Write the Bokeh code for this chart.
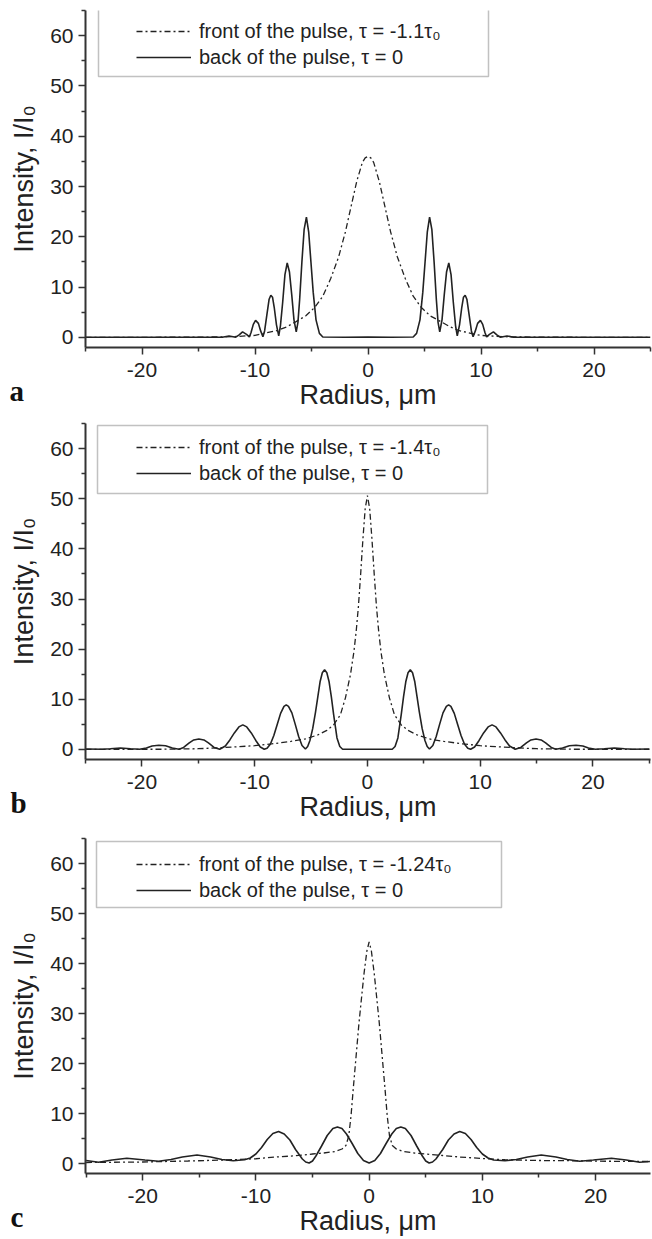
from bokeh.plotting import figure
from bokeh.layouts import column
from bokeh.models import Range1d, Legend, LegendItem, BoxAnnotation, Title, FixedTicker
from bokeh.embed import file_html
from bokeh.resources import INLINE

# ---------------- data ----------------
x_ticks = [-20, -10, 0, 10, 20]
x_tick_text = ["-20", "-10", "0", "10", "20"]
x_minor = [-25, -15, -5, 5, 15, 25]
y_ticks = [0, 10, 20, 30, 40, 50, 60]
y_minor = [5, 15, 25, 35, 45, 55, 65]

panel_letters = ["a", "b", "c"]
front_labels = ["front of the pulse, \u03c4 = -1.1\u03c4\u2080",
                "front of the pulse, \u03c4 = -1.4\u03c4\u2080",
                "front of the pulse, \u03c4 = -1.24\u03c4\u2080"]
back_label = "back of the pulse, \u03c4 = 0"

a_back = [(-25, 0.05), (-14, 0.05), (-12.9, 0.05), (-12.3, 0.3), (-11.7, 0.05), (-11.4, 0.5),
          (-11.1, 1.1), (-10.75, 0.6), (-10.5, 0.1), (-10.35, 1.0), (-10.15, 2.6), (-9.95, 3.4),
          (-9.7, 2.8), (-9.5, 1.3), (-9.3, 0.15), (-9.15, 1.3), (-8.95, 4.5), (-8.75, 7.6),
          (-8.6, 8.4), (-8.45, 8.0), (-8.3, 6.0), (-8.1, 2.5), (-7.9, 0.3), (-7.75, 2.3),
          (-7.55, 7.0), (-7.35, 12.5), (-7.15, 14.8), (-6.95, 13.0), (-6.75, 8.5), (-6.55, 3.5),
          (-6.35, 1.1), (-6.2, 3.0), (-6.05, 7.5), (-5.85, 15.0), (-5.65, 21.5), (-5.45, 23.9),
          (-5.25, 21.0), (-5.05, 15.0), (-4.85, 9.0), (-4.6, 3.5), (-4.3, 0.8), (-4.0, 0.1),
          (-2.0, 0.05), (0, 0.1), (2.0, 0.05), (4.0, 0.1), (4.3, 0.8), (4.6, 3.5), (4.85, 9.0),
          (5.05, 15.0), (5.25, 21.0), (5.45, 23.9), (5.65, 21.5), (5.85, 15.0), (6.05, 7.5),
          (6.2, 3.0), (6.35, 1.1), (6.55, 3.5), (6.75, 8.5), (6.95, 13.0), (7.15, 14.8),
          (7.35, 12.5), (7.55, 7.0), (7.75, 2.3), (7.9, 0.3), (8.1, 2.5), (8.3, 6.0), (8.45, 8.0),
          (8.6, 8.4), (8.75, 7.6), (8.95, 4.5), (9.15, 1.3), (9.3, 0.15), (9.5, 1.3), (9.7, 2.8),
          (9.95, 3.4), (10.15, 2.6), (10.35, 1.0), (10.5, 0.1), (10.75, 0.6), (11.1, 1.1),
          (11.4, 0.5), (11.7, 0.05), (12.3, 0.3), (12.9, 0.05), (14, 0.05), (25, 0.05)]

a_front = [(-25, 0), (-15, 0.05), (-12, 0.15), (-10, 0.4), (-8, 1.4), (-7.2, 2.1), (-6.4, 3.1),
           (-5.5, 4.3), (-4.7, 6.0), (-4.0, 8.2), (-3.3, 11.7), (-2.6, 16), (-2.0, 21), (-1.5, 26),
           (-1.0, 31), (-0.5, 34.8), (-0.25, 35.7), (0, 36), (0.25, 35.7), (0.5, 34.8), (1.0, 31),
           (1.5, 26), (2.0, 21), (2.6, 16), (3.3, 11.7), (4.0, 8.2), (4.7, 6.0), (5.5, 4.3),
           (6.4, 3.2), (7.2, 2.2), (8, 1.4), (9.1, 0.8), (10, 0.4), (12, 0.15), (15, 0.05), (25, 0)]

b_back = [(-25, 0.1), (-23.5, 0.05), (-22.8, 0.15), (-21.9, 0.3), (-21.0, 0.15), (-20.2, 0.05),
          (-19.6, 0.3), (-19.1, 0.7), (-18.5, 0.85), (-17.9, 0.75), (-17.3, 0.3), (-16.7, 0.05),
          (-16.3, 0.4), (-15.8, 1.3), (-15.4, 1.9), (-14.95, 2.1), (-14.5, 1.9), (-14.1, 1.3),
          (-13.6, 0.4), (-13.1, 0.05), (-12.6, 0.7), (-12.2, 1.9), (-11.8, 3.3), (-11.4, 4.5),
          (-11.05, 4.9), (-10.7, 4.5), (-10.3, 3.3), (-9.9, 1.8), (-9.5, 0.5), (-9.15, 0.05),
          (-8.9, 0.25), (-8.6, 1.1), (-8.3, 2.8), (-8.0, 5.0), (-7.7, 7.2), (-7.4, 8.6), (-7.2, 8.9),
          (-7.0, 8.6), (-6.7, 7.3), (-6.4, 5.0), (-6.1, 2.6), (-5.8, 0.8), (-5.5, 0.1), (-5.3, 0.6),
          (-5.1, 1.8), (-4.85, 4.2), (-4.6, 7.5), (-4.4, 10.5), (-4.2, 13.5), (-4.0, 15.3),
          (-3.8, 15.9), (-3.6, 15.3), (-3.4, 13.5), (-3.2, 10.5), (-3.0, 7.0), (-2.7, 2.3),
          (-2.45, 0.6), (-2.2, 0.05), (0, 0.05), (2.2, 0.05), (2.45, 0.6), (2.7, 2.3), (3.0, 7.0),
          (3.2, 10.5), (3.4, 13.5), (3.6, 15.3), (3.8, 15.9), (4.0, 15.3), (4.2, 13.5), (4.4, 10.5),
          (4.6, 7.5), (4.85, 4.2), (5.1, 1.8), (5.3, 0.6), (5.5, 0.1), (5.8, 0.8), (6.1, 2.6),
          (6.4, 5.0), (6.7, 7.3), (7.0, 8.6), (7.2, 8.9), (7.4, 8.6), (7.7, 7.2), (8.0, 5.0),
          (8.3, 2.8), (8.6, 1.1), (8.9, 0.25), (9.15, 0.05), (9.5, 0.5), (9.9, 1.8), (10.3, 3.3),
          (10.7, 4.5), (11.05, 4.9), (11.4, 4.5), (11.8, 3.3), (12.2, 1.9), (12.6, 0.7),
          (13.1, 0.05), (13.6, 0.4), (14.1, 1.3), (14.5, 1.9), (14.95, 2.1), (15.4, 1.9),
          (15.8, 1.3), (16.3, 0.4), (16.7, 0.05), (17.3, 0.3), (17.9, 0.75), (18.5, 0.85),
          (19.1, 0.7), (19.6, 0.3), (20.2, 0.05), (21.0, 0.15), (21.9, 0.3), (22.8, 0.15),
          (23.5, 0.05), (25, 0.1)]

b_front = [(-25, 0), (-18, 0.05), (-15, 0.15), (-13, 0.35), (-11.5, 0.55), (-10, 0.75),
           (-8.5, 1.1), (-6.8, 1.6), (-5.5, 2.1), (-4.4, 2.9), (-3.6, 3.8), (-3.0, 4.9),
           (-2.4, 6.9), (-1.95, 10.3), (-1.5, 15), (-1.2, 19.5), (-1.0, 23.5), (-0.8, 28.5),
           (-0.6, 35), (-0.4, 42), (-0.2, 48), (0, 50.6), (0.2, 48), (0.4, 42), (0.6, 35),
           (0.8, 28.5), (1.0, 23.5), (1.2, 19.5), (1.5, 15), (1.95, 10.3), (2.4, 6.9), (3.0, 4.9),
           (3.6, 3.8), (4.4, 2.9), (5.5, 2.1), (6.8, 1.6), (8.5, 1.1), (10, 0.75), (11.5, 0.55),
           (13, 0.35), (15, 0.15), (18, 0.05), (25, 0)]

c_back = [(-25, 0.6), (-23.9, 0.25), (-22.7, 0.7), (-21.4, 1.05), (-19.8, 0.7), (-18.6, 0.45),
          (-17.5, 0.8), (-16.5, 1.3), (-15.2, 1.7), (-14.0, 1.3), (-13.0, 0.8), (-12.0, 0.55),
          (-11.0, 0.75), (-10.5, 1.1), (-10.0, 1.9), (-9.5, 3.2), (-9.0, 4.8), (-8.5, 6.0),
          (-8.0, 6.4), (-7.5, 5.9), (-7.0, 4.7), (-6.5, 2.8), (-5.9, 0.9), (-5.6, 0.3), (-5.3, 0.1),
          (-5.0, 0.5), (-4.7, 1.5), (-4.2, 3.5), (-3.7, 5.6), (-3.2, 7.0), (-2.8, 7.3), (-2.4, 7.0),
          (-2.0, 5.9), (-1.5, 4.0), (-1.0, 2.0), (-0.5, 0.6), (0, 0.1), (0.5, 0.6), (1.0, 2.0),
          (1.5, 4.0), (2.0, 5.9), (2.4, 7.0), (2.8, 7.3), (3.2, 7.0), (3.7, 5.6), (4.2, 3.5),
          (4.7, 1.5), (5.0, 0.5), (5.3, 0.1), (5.6, 0.3), (5.9, 0.9), (6.5, 2.8), (7.0, 4.7),
          (7.5, 5.9), (8.0, 6.4), (8.5, 6.0), (9.0, 4.8), (9.5, 3.2), (10.0, 1.9), (10.5, 1.1),
          (11.0, 0.7), (12.0, 0.55), (13.0, 0.8), (14.0, 1.3), (15.2, 1.7), (16.5, 1.3),
          (17.5, 0.8), (18.6, 0.45), (19.8, 0.7), (21.4, 1.05), (22.7, 0.7), (23.9, 0.25),
          (24.8, 0.4)]

c_front = [(-25, 0.2), (-20, 0.3), (-16, 0.5), (-12.6, 0.7), (-10, 0.95), (-8.2, 1.3),
           (-6.5, 1.55), (-5, 1.9), (-4, 2.1), (-3, 2.4), (-2.4, 2.9), (-2.05, 3.6), (-1.8, 5.5),
           (-1.6, 9.5), (-1.4, 15), (-1.15, 21.5), (-0.9, 28), (-0.7, 32.5), (-0.45, 38),
           (-0.2, 42.5), (0, 44.3), (0.2, 42.5), (0.45, 38), (0.7, 32.5), (0.9, 28), (1.15, 21.5),
           (1.4, 15), (1.6, 9.5), (1.8, 5.5), (2.05, 3.6), (2.4, 2.9), (3, 2.4), (4, 2.1), (5, 1.9),
           (6.5, 1.6), (8, 1.3), (10, 1.0), (12, 0.75), (15, 0.6), (18, 0.55), (21, 0.45),
           (24.8, 0.4)]

# ---------------- layout / style ----------------
INK = "#222222"
AXIS = "#333333"
SANS = "Liberation Sans"

panels_cfg = [
    dict(height=421, top=10, bottom=74, left=84, right=2, xr=(-25, 25.0),
         box=(13, 403, -2, 66), leg_x=51, leg_top=7, letter_off=-76),
    dict(height=415, top=2, bottom=77, left=83, right=2, xr=(-25, 25.1),
         box=(12, 402, 2, 70), leg_x=51, leg_top=10, letter_off=-75),
    dict(height=403, top=2, bottom=66, left=85, right=0, xr=(-25.05, 24.85),
         box=(11, 416, 3, 69), leg_x=51, leg_top=12, letter_off=-75),
]
series = [(a_back, a_front), (b_back, b_front), (c_back, c_front)]

figs = []
for i, cfg in enumerate(panels_cfg):
    back, front = series[i]
    frame_h = cfg["height"] - cfg["top"] - cfg["bottom"]
    p = figure(width=652, height=cfg["height"], title=None,
               x_range=Range1d(*cfg["xr"]), y_range=Range1d(-2, 65),
               output_backend="svg", toolbar_location=None,
               min_border_left=cfg["left"], min_border_right=cfg["right"],
               min_border_top=cfg["top"], min_border_bottom=cfg["bottom"])
    p.grid.visible = False
    p.outline_line_color = None
    p.background_fill_color = "white"

    rb = p.line([q[0] for q in back], [q[1] for q in back], line_color=INK, line_width=1.6)
    rf = p.line([q[0] for q in front], [q[1] for q in front], line_color=INK, line_width=1.3,
                line_dash="6 3 2 3")

    p.xaxis.ticker = FixedTicker(ticks=x_ticks, minor_ticks=x_minor)
    p.xaxis.major_label_overrides = dict(zip(x_ticks, x_tick_text))
    p.yaxis.ticker = FixedTicker(ticks=y_ticks, minor_ticks=y_minor)
    p.xaxis.axis_label = "Radius, \u03bcm"
    p.yaxis.axis_label = "Intensity, I/I\u2080"
    for ax in (p.xaxis[0], p.yaxis[0]):
        ax.axis_line_width = 2
        ax.axis_line_color = AXIS
        ax.major_tick_line_color = AXIS
        ax.minor_tick_line_color = AXIS
        ax.major_tick_line_width = 1.5
        ax.minor_tick_line_width = 1.5
        ax.major_tick_in = 0
        ax.major_tick_out = 7
        ax.minor_tick_in = 0
        ax.minor_tick_out = 4
        ax.major_label_text_font = SANS
        ax.major_label_text_font_size = "21px"
        ax.major_label_text_color = INK
        ax.axis_label_text_font = SANS
        ax.axis_label_text_font_size = "27px"
        ax.axis_label_text_font_style = "normal"
        ax.axis_label_text_color = INK
    p.xaxis.major_label_standoff = 8
    p.xaxis.axis_label_standoff = 0
    p.yaxis.major_label_standoff = 5
    p.yaxis.axis_label_standoff = 8

    # legend frame (screen units relative to the plot frame)
    bl, br, bt, bb = cfg["box"]
    p.add_layout(BoxAnnotation(left=bl, right=br, top=frame_h - bt, bottom=frame_h - bb,
                               left_units="screen", right_units="screen",
                               top_units="screen", bottom_units="screen",
                               fill_alpha=0, line_color=AXIS, line_width=1.5))
    legend = Legend(items=[LegendItem(label=front_labels[i], renderers=[rf]),
                           LegendItem(label=back_label, renderers=[rb])],
                    location=(cfg["leg_x"], frame_h - cfg["leg_top"] - 53),
                    padding=0, spacing=0, margin=0,
                    glyph_width=55, glyph_height=26, label_height=26, label_standoff=8,
                    border_line_alpha=0, background_fill_alpha=0,
                    label_text_font=SANS, label_text_font_size="20px", label_text_color=INK)
    p.add_layout(legend)

    # panel letter, set as a title below the x axis and pulled up beside its label
    p.add_layout(Title(text=panel_letters[i], align="left", offset=cfg["letter_off"],
                       vertical_align="top", standoff=-76,
                       text_font="Liberation Serif", text_font_style="bold",
                       text_font_size="29px", text_color="#111111"), "below")
    figs.append(p)

layout = column(*figs, spacing=0)
open("out.html", "w").write(file_html(layout, INLINE))
